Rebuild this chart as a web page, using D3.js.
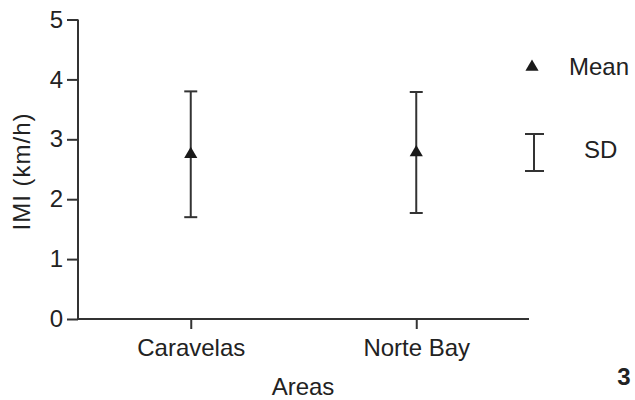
<!DOCTYPE html>
<html><head><meta charset="utf-8">
<script src="https://cdn.jsdelivr.net/npm/d3@7"></script>
<style>
html,body{margin:0;padding:0;background:#fff;}
text{font-family:"Liberation Sans",Arial,sans-serif;fill:#222;}
</style></head>
<body>
<svg id="chart" width="635" height="400"></svg>
<script>
const categories = ["Caravelas", "Norte Bay"];
const means = [2.75, 2.78];
const sds = [1.05, 1.01];
const yTicks = [0, 1, 2, 3, 4, 5];
const yLabel = "IMI (km/h)";
const xLabel = "Areas";
const legendLabels = ["Mean", "SD"];
const panelLabel = "3";

const svg = d3.select("#chart");
const stroke = "#333";
const x = d3.scalePoint().domain(categories).range([78, 529]).padding(0.5);
const y = d3.scaleLinear().domain([0, 5]).range([319, 19.5]);

// Y axis
const yAxis = svg.append("g").attr("transform", "translate(78,0)")
  .call(d3.axisLeft(y).tickValues(yTicks).tickFormat(d3.format("d")).tickSize(11).tickPadding(4));
yAxis.select(".domain").attr("d", `M0,${y(5)}V${y(0)}`);
// X axis
const xAxis = svg.append("g").attr("transform", "translate(0,319)")
  .call(d3.axisBottom(x).tickSize(10).tickPadding(5));
xAxis.select(".domain").attr("d", "M78,0H529");
svg.selectAll(".domain, .tick line").attr("stroke", stroke).attr("stroke-width", 2);
svg.selectAll(".tick text").style("font-size", "24px").attr("fill", "#222")
  .style("font-family", '"Liberation Sans", Arial, sans-serif');
xAxis.selectAll(".tick text").attr("dy", "0.9em");

// axis labels
svg.append("text").attr("transform", "translate(30,171.5) rotate(-90)")
  .attr("text-anchor", "middle").style("font-size", "24px").style("letter-spacing", "1px").text(yLabel);
svg.append("text").attr("x", 303).attr("y", 395).attr("text-anchor", "middle")
  .style("font-size", "24px").text(xLabel);

// error bars
const tri = d3.symbol().type(d3.symbolTriangle).size(75);
const capW = 6.5;
const g = svg.append("g");
categories.forEach((c, i) => {
  const cx = x(c), hi = y(means[i] + sds[i]), lo = y(means[i] - sds[i]);
  g.append("line").attr("x1", cx).attr("x2", cx).attr("y1", hi).attr("y2", lo).attr("stroke", stroke).attr("stroke-width", 2);
  g.append("line").attr("x1", cx - capW).attr("x2", cx + capW).attr("y1", hi).attr("y2", hi).attr("stroke", stroke).attr("stroke-width", 2);
  g.append("line").attr("x1", cx - capW).attr("x2", cx + capW).attr("y1", lo).attr("y2", lo).attr("stroke", stroke).attr("stroke-width", 2);
  g.append("path").attr("d", tri).attr("transform", `translate(${cx},${y(means[i])})`).attr("fill", "#1a1a1a");
});

// legend
svg.append("path").attr("d", tri).attr("transform", "translate(532,67)").attr("fill", "#1a1a1a");
svg.append("text").attr("x", 569).attr("y", 75).style("font-size", "24px").text(legendLabels[0]);
const lg = svg.append("g").attr("stroke", stroke).attr("stroke-width", 2);
lg.append("line").attr("x1", 534).attr("x2", 534).attr("y1", 134).attr("y2", 171);
lg.append("line").attr("x1", 525).attr("x2", 544).attr("y1", 134).attr("y2", 134);
lg.append("line").attr("x1", 525).attr("x2", 544).attr("y1", 171).attr("y2", 171);
svg.append("text").attr("x", 584).attr("y", 158).style("font-size", "24px").text(legendLabels[1]);

// panel label
svg.append("text").attr("x", 624).attr("y", 385).attr("text-anchor", "middle")
  .style("font-size", "24px").style("font-weight", "bold").text(panelLabel);
</script>
</body></html>
